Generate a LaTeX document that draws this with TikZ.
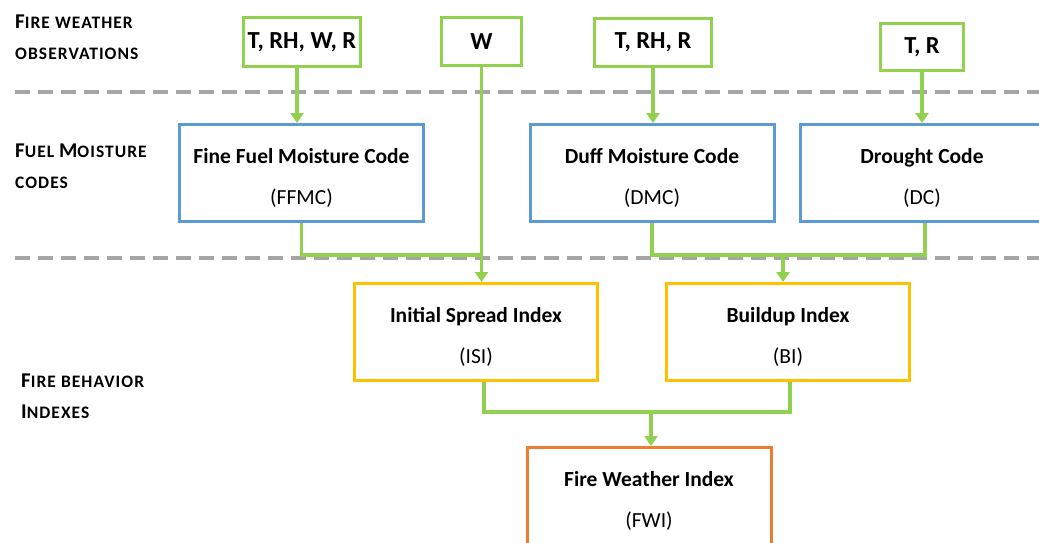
\documentclass[tikz,border=0pt]{standalone}
\usepackage{fontspec}
\setmainfont{Carlito}
\usetikzlibrary{arrows.meta}
\definecolor{cgreen}{HTML}{92D050}
\definecolor{cblue}{HTML}{5B9BD5}
\definecolor{cyellow}{HTML}{FFC000}
\definecolor{corange}{HTML}{ED7D31}
\definecolor{cgray}{HTML}{A5A5A5}
\newcommand{\smc}[1]{{\fontsize{17.5}{17.5}\selectfont\addfontfeature{LetterSpace=6}#1}}
\newcommand{\boxtitle}[1]{\rule{0pt}{24pt}\textbf{#1}}
\tikzset{
  obsbox/.style={draw=cgreen, line width=3pt, inner sep=0pt, font=\fontsize{24.5}{24.5}\selectfont\bfseries},
  codebox/.style={draw=cblue, line width=3pt, inner sep=0pt, minimum width=244pt, minimum height=97pt, align=center, font=\fontsize{21.5}{41}\selectfont},
  idxbox/.style={codebox, draw=cyellow, minimum width=243pt},
  fwibox/.style={codebox, draw=corange},
  conn/.style={draw=cgreen, line width=3.5pt},
  arr/.style={conn, -{Triangle[width=13pt,length=10pt]}},
  sepline/.style={draw=cgray, line width=3.5pt, dash pattern=on 15pt off 8pt},
  lab/.style={anchor=base west, inner sep=0pt, font=\fontsize{21}{21}\selectfont\bfseries}
}
\begin{document}
\begin{tikzpicture}[x=1pt,y=-1pt]
\useasboundingbox (0,0) rectangle (1039,542);
\clip (0,0) rectangle (1039,542);
% separators
\coordinate (s1a) at (15,92);
\coordinate (s1b) at (1039,92);
\coordinate (s2a) at (15,258);
\coordinate (s2b) at (1039,258);
\draw[sepline] (s1a) -- (s1b);
\draw[sepline] (s2a) -- (s2b);
% left labels
\node[lab] (l1a) at (15,28) {F\smc{IRE WEATHER}};
\node[lab] (l1b) at (15,59) {\smc{OBSERVATIONS}};
\node[lab] (l2a) at (15,157) {F\smc{UEL} M\smc{OISTURE}};
\node[lab] (l2b) at (15,188) {\smc{CODES}};
\node[lab] (l3a) at (21,387) {F\smc{IRE BEHAVIOR}};
\node[lab] (l3b) at (21,418) {I\smc{NDEXES}};
% observation boxes
\node[obsbox, minimum width=117pt, minimum height=49pt] (o1) at (302,42) {T, RH, W, R};
\node[obsbox, minimum width=80pt, minimum height=48pt] (o2) at (481.5,41.5) {W};
\node[obsbox, minimum width=117pt, minimum height=48pt] (o3) at (653,42.5) {T, RH, R};
\node[obsbox, minimum width=83pt, minimum height=47pt] (o4) at (922,47) {T, R};
% codes
\node[codebox] (ffmc) at (301.5,173) {\boxtitle{Fine Fuel Moisture Code}\\(FFMC)};
\node[codebox] (dmc) at (652,173) {\boxtitle{Duff Moisture Code}\\(DMC)};
\node[codebox] (dc) at (922,173) {\boxtitle{Drought Code}\\(DC)};
% indexes
\node[idxbox] (isi) at (476,332) {\boxtitle{Initial Spread Index}\\(ISI)};
\node[idxbox] (bi) at (788,332) {\boxtitle{Buildup Index}\\(BI)};
\node[fwibox] (fwi) at (649,496) {\boxtitle{Fire Weather Index}\\(FWI)};
% junction levels
\coordinate (y1) at (0,255);
\coordinate (y2) at (0,412);
% connectors
\draw[arr] ([xshift=-5pt]o1.south) -- ([xshift=-5pt]o1.south |- ffmc.north);
\draw[arr] (o2.south) -- (o2.south |- isi.north);
\draw[arr] (o3.south) -- (o3.south |- dmc.north);
\draw[arr] (o4.south) -- (o4.south |- dc.north);
\draw[conn] (ffmc.south) -- (ffmc.south |- y1) -- (o2.south |- y1);
\draw[conn] (dmc.south) -- (dmc.south |- y1) -- ([xshift=3pt]dc.south |- y1) -- ([xshift=3pt]dc.south);
\draw[arr] ([xshift=-5pt]bi.north |- y1) -- ([xshift=-5pt]bi.north);
\draw[conn] ([xshift=8pt]isi.south) -- ([xshift=8pt]isi.south |- y2) -- ([xshift=2pt]bi.south |- y2) -- ([xshift=2pt]bi.south);
\draw[arr] ([xshift=2pt]fwi.north |- y2) -- ([xshift=2pt]fwi.north);
\end{tikzpicture}
\end{document}
